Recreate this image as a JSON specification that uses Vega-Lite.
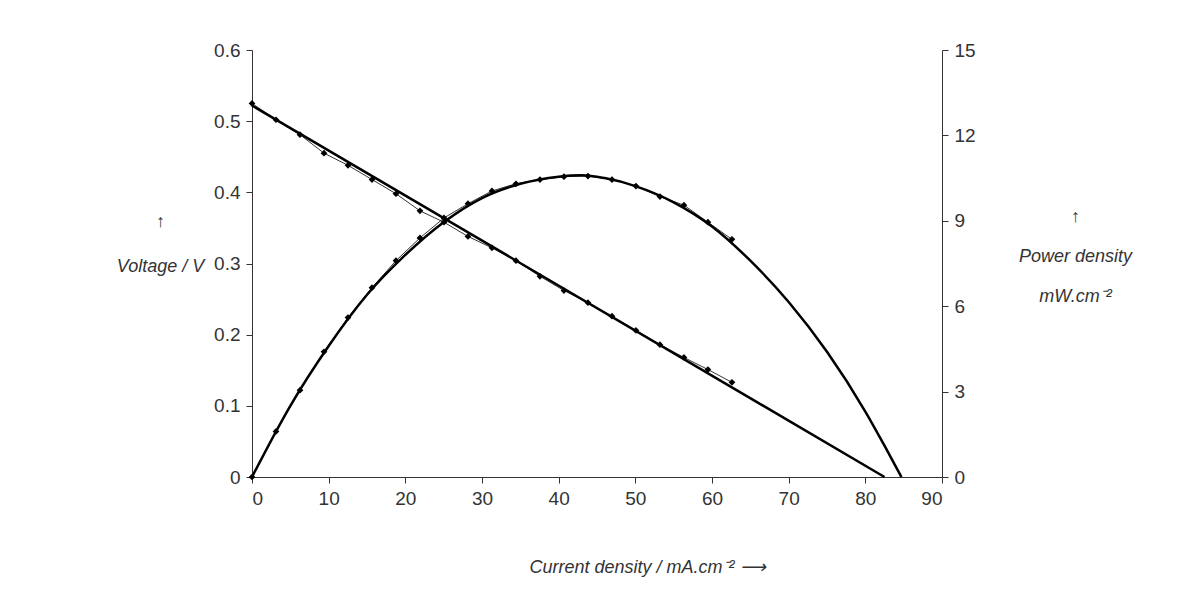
{
  "$schema": "https://vega.github.io/schema/vega-lite/v6.json",
  "width": 690,
  "height": 427,
  "autosize": "none",
  "padding": {"left": 252, "top": 50, "right": 262, "bottom": 135},
  "background": "#FFFFFF",
  "config": {
    "view": {"stroke": null},
    "axis": {
      "grid": false,
      "domainColor": "#333",
      "tickColor": "#333",
      "labelColor": "#333",
      "labelFont": "Liberation Sans",
      "labelFontSize": 19,
      "titleFont": "Liberation Sans",
      "titleFontSize": 18,
      "titleFontWeight": "normal",
      "titleFontStyle": "italic",
      "titleColor": "#333",
      "tickSize": 6,
      "labelPadding": 6
    }
  },
  "datasets": {
    "vfit": [{"i": 0, "v": 0.522}, {"i": 82.5, "v": 0}],
    "meas": [
      {"i": 0, "v": 0.525, "p": 0},
      {"i": 3.13, "v": 0.502, "p": 1.6},
      {"i": 6.26, "v": 0.481, "p": 3.05},
      {"i": 9.39, "v": 0.455, "p": 4.4},
      {"i": 12.52, "v": 0.438, "p": 5.6},
      {"i": 15.65, "v": 0.418, "p": 6.65},
      {"i": 18.78, "v": 0.398, "p": 7.6},
      {"i": 21.91, "v": 0.374, "p": 8.4},
      {"i": 25.04, "v": 0.358, "p": 9.1},
      {"i": 28.17, "v": 0.338, "p": 9.6},
      {"i": 31.3, "v": 0.322, "p": 10.05},
      {"i": 34.43, "v": 0.304, "p": 10.3},
      {"i": 37.56, "v": 0.282, "p": 10.45},
      {"i": 40.69, "v": 0.262, "p": 10.55},
      {"i": 43.82, "v": 0.245, "p": 10.57},
      {"i": 46.95, "v": 0.226, "p": 10.45},
      {"i": 50.08, "v": 0.206, "p": 10.22},
      {"i": 53.21, "v": 0.186, "p": 9.85},
      {"i": 56.34, "v": 0.168, "p": 9.55},
      {"i": 59.47, "v": 0.151, "p": 8.95},
      {"i": 62.6, "v": 0.133, "p": 8.35}
    ],
    "pfit": [
      {"i": 0, "p": 0}, {"i": 5, "p": 2.5}, {"i": 10, "p": 4.6}, {"i": 15, "p": 6.4},
      {"i": 20, "p": 7.8}, {"i": 25, "p": 8.95}, {"i": 30, "p": 9.8}, {"i": 35, "p": 10.3},
      {"i": 40, "p": 10.55}, {"i": 43, "p": 10.6}, {"i": 46, "p": 10.5}, {"i": 50, "p": 10.22},
      {"i": 55, "p": 9.65}, {"i": 60, "p": 8.8}, {"i": 65, "p": 7.6}, {"i": 70, "p": 6.15},
      {"i": 75, "p": 4.4}, {"i": 80, "p": 2.3}, {"i": 82.5, "p": 1.1}, {"i": 84.7, "p": 0}
    ]
  },
  "layer": [
    {
      "layer": [
        {
          "data": {"name": "vfit"},
          "mark": {"type": "line", "color": "black", "strokeWidth": 2.5},
          "encoding": {
            "x": {"field": "i", "type": "quantitative", "scale": {"domain": [0, 90], "nice": false},
              "axis": {"values": [0,10,20,30,40,50,60,70,80,90], "title": "Current density  / mA.cm⁻²  ⟶", "titlePadding": 50, "titleX": 395}},
            "y": {"field": "v", "type": "quantitative", "scale": {"domain": [0, 0.6], "nice": false},
              "axis": {"values": [0,0.1,0.2,0.3,0.4,0.5,0.6], "labelExpr": "datum.value == 0 ? '0' : format(datum.value, '.1f')",
                "title": ["↑", "", "Voltage  / V"], "titleAngle": 0, "titleX": -92, "titleY": 180, "titleAlign": "center", "titleLineHeight": 45}}
          }
        },
        {
          "data": {"name": "meas"},
          "mark": {"type": "line", "color": "black", "strokeWidth": 0.8, "point": {"shape": "diamond", "size": 45, "filled": true, "color": "black"}},
          "encoding": {
            "x": {"field": "i", "type": "quantitative"},
            "y": {"field": "v", "type": "quantitative"}
          }
        }
      ]
    },
    {
      "layer": [
        {
          "data": {"name": "pfit"},
          "mark": {"type": "line", "color": "black", "strokeWidth": 2.5, "interpolate": "monotone"},
          "encoding": {
            "x": {"field": "i", "type": "quantitative"},
            "y": {"field": "p", "type": "quantitative", "scale": {"domain": [0, 15], "nice": false},
              "axis": {"orient": "right", "values": [0,3,6,9,12,15],
                "title": ["↑", "", "Power density", "mW.cm⁻²"], "titleAngle": 0, "titleX": 133, "titleY": 175, "titleAlign": "center", "titleLineHeight": 40}}
          }
        },
        {
          "data": {"name": "meas"},
          "mark": {"type": "line", "color": "black", "strokeWidth": 0.8, "point": {"shape": "diamond", "size": 45, "filled": true, "color": "black"}},
          "encoding": {
            "x": {"field": "i", "type": "quantitative"},
            "y": {"field": "p", "type": "quantitative"}
          }
        }
      ]
    }
  ],
  "resolve": {"scale": {"y": "independent"}}
}
